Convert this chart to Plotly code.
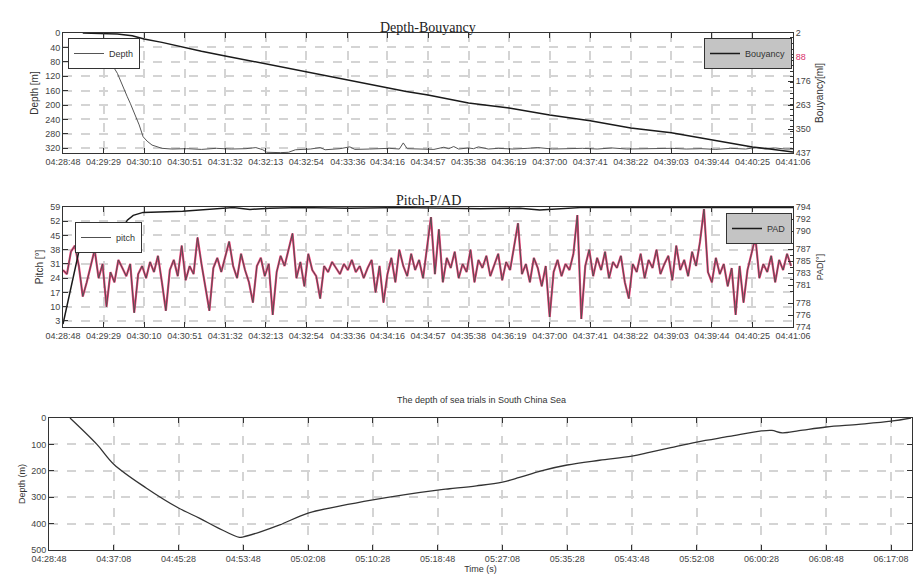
import plotly.graph_objects as go

# ---------------- data ----------------
top_tick_labels = ["04:28:48", "04:29:29", "04:30:10", "04:30:51", "04:31:32", "04:32:13",
                   "04:32:54", "04:33:36", "04:34:16", "04:34:57", "04:35:38", "04:36:19",
                   "04:37:00", "04:37:41", "04:38:22", "04:39:03", "04:39:44", "04:40:25",
                   "04:41:06"]
bottom_tick_labels = ["04:28:48", "04:37:08", "04:45:28", "04:53:48", "05:02:08", "05:10:28",
                      "05:18:48", "05:27:08", "05:35:28", "05:43:48", "05:52:08", "06:00:28",
                      "06:08:48", "06:17:08"]

depth_ticks = [0, 40, 80, 120, 160, 200, 240, 280, 320]
buoy_ticks = [2, 89, 176, 263, 350, 437]
buoy_tick_text = ["2", "<span style='color:#d8306a'>88</span>", "176", "263", "350", "437"]
pitch_ticks = [3, 10, 17, 24, 31, 38, 45, 52, 59]
pad_ticks = [774, 776, 778, 781, 783, 785, 787, 790, 792, 794]
sea_depth_ticks = [0, 100, 200, 300, 400, 500]

# seconds after 04:28:48
depth_t = [20, 30, 35, 40, 45, 51, 55, 58, 61, 65, 68, 71, 74, 77, 81, 85, 90, 95, 100, 110,
           125, 140, 155, 170, 185, 195, 202, 206, 212, 220, 228, 235, 250, 260, 265, 280, 290,
           295, 310, 330, 340, 344, 348, 360, 375, 385, 390, 395, 400, 410, 415, 420, 430,
           440, 455, 470, 480, 495, 510, 525, 540, 555, 570, 585, 600, 615, 630, 645, 660,
           675, 690, 700, 710, 720, 730, 738]
depth_m = [50, 66, 75, 84, 88, 94, 112, 130, 150, 177, 195, 214, 235, 255, 288, 300, 311, 316,
           320, 322, 321, 323, 320, 322, 321, 318, 324, 331, 332, 332, 331, 324, 322, 318, 324,
           321, 316, 323, 322, 320, 322, 305, 321, 321, 323, 317, 321, 315, 322, 319, 321, 316,
           322, 320, 322, 320, 318, 322, 321, 320, 322, 319, 322, 321, 322, 320, 322, 321, 323,
           320, 322, 318, 322, 319, 322, 322]

buoy_t = [20, 40, 55, 70, 82, 100, 123, 140, 164, 185, 205, 225, 246, 265, 288, 306, 328,
          347, 369, 401, 410, 451, 492, 533, 574, 615, 656, 697, 738]
buoy_ml = [2, 3, 6, 12, 24, 36, 56, 68, 85, 100, 115, 128, 142, 157, 172, 187, 201, 214, 227,
           251, 256, 274, 299, 320, 346, 364, 390, 415, 433]

pitch_step_s = 4
pitch_deg = [28, 26, 37, 40, 30, 15, 22, 30, 38, 24,
             31, 10, 27, 22, 33, 29, 25, 31, 7, 26,
             30, 24, 32, 27, 35, 22, 8, 28, 33, 25,
             40, 23, 30, 26, 44, 31, 20, 8, 29, 34,
             27, 35, 42, 30, 24, 36, 28, 22, 12, 30,
             34, 25, 31, 6, 27, 35, 30, 38, 46, 24,
             32, 20, 36, 28, 25, 14, 30, 27, 32, 29,
             26, 31, 28, 33, 27, 30, 24, 29, 33, 17,
             30, 12, 26, 34, 22, 38, 30, 25, 36, 28,
             33, 24, 40, 54, 26, 48, 22, 34, 29, 37,
             24, 31, 27, 38, 22, 33, 29, 35, 25, 30,
             36, 23, 32, 28, 40, 51, 26, 31, 22, 34,
             29, 20, 30, 5, 27, 33, 25, 31, 28, 36,
             55, 4, 30, 38, 25, 34, 28, 37, 24, 32,
             29, 35, 22, 14, 31, 27, 36, 24, 33, 29,
             38, 26, 31, 35, 23, 40, 28, 33, 25, 37,
             30, 42, 58, 27, 22, 34, 26, 31, 20, 29,
             6, 30, 12, 28, 36, 44, 24, 31, 27, 35,
             22, 33, 28, 36, 30]
pitch_t = [i * pitch_step_s for i in range(len(pitch_deg))]

pad_t = [0, 19, 34, 48, 58, 65, 71, 81, 121, 156, 172, 189, 209, 240, 290, 341, 422, 462, 482,
         523, 563, 644, 738]
pad_val = [774.5, 788.8, 788.4, 789.6, 789.8, 791.8, 792.6, 793.1, 793.3, 793.7, 793.9, 793.6,
           793.8, 793.9, 793.8, 793.9, 793.7, 793.8, 793.5, 793.9, 793.9, 793.9, 793.9]

sea_t = [162, 370, 500, 750, 1000, 1164, 1300, 1470, 1500, 1627, 1781, 2000, 2250, 2500, 2750,
         3000, 3092, 3300, 3500, 3632, 3800, 4000, 4250, 4500, 4634, 4800, 5000, 5250, 5500,
         5580, 5660, 5790, 6000, 6250, 6500, 6654]
sea_depth = [0, 100, 175, 265, 341, 380, 415, 452, 450, 432, 405, 360, 333, 310, 290, 273, 268,
             257, 243, 225, 200, 178, 160, 144, 130, 112, 91, 70, 49, 47, 56, 48, 34, 24, 12, 0]


def sec(hms):
    h, m, s = map(int, hms.split(":"))
    return h * 3600 + m * 60 + s


T0 = sec(top_tick_labels[0])
top_tickvals = [sec(l) - T0 for l in top_tick_labels]
bottom_tickvals = [sec(l) - T0 for l in bottom_tick_labels]

W, H = 913, 580
def fx(px):
    return px / W
def fy(py):
    return 1 - py / H

SERIF = "Liberation Serif, DejaVu Serif, serif"
SANS = "Liberation Sans, Arial, sans-serif"
AX = "#333333"
GRID = "#d4d4d4"
tickfont = dict(family=SANS, size=9, color="#444444")

fig = go.Figure()

fig.add_trace(go.Scatter(x=depth_t, y=depth_m, mode="lines", name="Depth",
                         line=dict(color="#555555", width=1), xaxis="x", yaxis="y",
                         legend="legend"))
fig.add_trace(go.Scatter(x=buoy_t, y=buoy_ml, mode="lines", name="Bouyancy",
                         line=dict(color="#1a1a1a", width=1.5), xaxis="x", yaxis="y2",
                         legend="legend2"))
fig.add_trace(go.Scatter(x=pitch_t, y=pitch_deg, mode="lines", name="pitch_hl",
                         line=dict(color="#ee3f78", width=2.2), xaxis="x2",
                         yaxis="y3", showlegend=False, hoverinfo="skip"))
fig.add_trace(go.Scatter(x=pitch_t, y=pitch_deg, mode="lines", name="pitch",
                         line=dict(color="#505050", width=1), xaxis="x2", yaxis="y3",
                         legend="legend3"))
fig.add_trace(go.Scatter(x=pad_t, y=pad_val, mode="lines", name="PAD",
                         line=dict(color="#1a1a1a", width=1.5), xaxis="x2", yaxis="y4",
                         legend="legend4"))
fig.add_trace(go.Scatter(x=sea_t, y=sea_depth, mode="lines", name="sea",
                         line=dict(color="#333333", width=1.3, shape="spline"), xaxis="x3",
                         yaxis="y5", showlegend=False))

common_x = dict(showline=True, linecolor=AX, linewidth=1, mirror="ticks", ticks="inside",
                ticklen=5, tickcolor=AX, showgrid=True, gridcolor=GRID, gridwidth=2,
                griddash="dash", zeroline=False, tickfont=tickfont, tickangle=0,
                automargin=False)
common_y = dict(showline=True, linecolor=AX, linewidth=1, ticks="inside", ticklen=5,
                tickcolor=AX, showgrid=True, gridcolor=GRID, gridwidth=2, griddash="dash",
                zeroline=False, tickfont=tickfont, automargin=False)

title_font = dict(family=SANS, size=10, color="#333")
legend_common = dict(bordercolor=AX, borderwidth=1, font=dict(family=SANS, size=9, color="#333"),
                     itemwidth=30, tracegroupgap=0, yanchor="top")

top_dom_x = [fx(63), fx(793)]
fig.update_layout(
    width=W, height=H, margin=dict(l=0, r=0, t=0, b=0, autoexpand=False),
    paper_bgcolor="white", plot_bgcolor="white",
    xaxis=dict(common_x, domain=top_dom_x, anchor="y", range=[0, 738],
               tickvals=top_tickvals, ticktext=top_tick_labels),
    yaxis=dict(common_y, domain=[fy(153), fy(33)], anchor="x", range=[333, 0],
               tickvals=depth_ticks, mirror=False,
               title=dict(text="Depth [m]", font=title_font, standoff=4)),
    yaxis2=dict(common_y, overlaying="y", side="right", anchor="x", range=[437, 2],
                tickvals=buoy_ticks, ticktext=buoy_tick_text, showgrid=False,
                minor=dict(ticks="inside", ticklen=3, nticks=5, tickcolor=AX, showgrid=False),
                title=dict(text="Bouyancy[ml]", font=title_font, standoff=6)),
    xaxis2=dict(common_x, domain=top_dom_x, anchor="y3", range=[0, 738],
                tickvals=top_tickvals, ticktext=top_tick_labels),
    yaxis3=dict(common_y, domain=[fy(327), fy(207)], anchor="x2", range=[0, 59],
                tickvals=pitch_ticks, mirror=False,
                title=dict(text="Pitch [°]", font=title_font, standoff=4)),
    yaxis4=dict(common_y, overlaying="y3", side="right", anchor="x2", range=[774, 794],
                tickvals=pad_ticks, showgrid=False,
                minor=dict(ticks="inside", ticklen=3, nticks=3, tickcolor=AX, showgrid=False),
                title=dict(text="PAD[°]", font=dict(family=SANS, size=9, color="#333"),
                           standoff=6)),
    xaxis3=dict(common_x, domain=[fx(49), fx(912)], anchor="y5", range=[0, 6662],
                tickvals=bottom_tickvals, ticktext=bottom_tick_labels,
                title=dict(text="Time (s)", font=dict(family=SANS, size=9, color="#333"),
                           standoff=2)),
    yaxis5=dict(common_y, domain=[fy(550), fy(418)], anchor="x3", range=[500, 0],
                tickvals=sea_depth_ticks, mirror="ticks",
                title=dict(text="Depth (m)", font=dict(family=SANS, size=9, color="#333"),
                           standoff=4)),
    legend=dict(legend_common, x=fx(68), y=fy(38), xanchor="left", bgcolor="white"),
    legend2=dict(legend_common, x=fx(792), y=fy(38), xanchor="right", bgcolor="#c4c4c4"),
    legend3=dict(legend_common, x=fx(75), y=fy(222), xanchor="left", bgcolor="white"),
    legend4=dict(legend_common, x=fx(792), y=fy(213), xanchor="right", bgcolor="#c4c4c4"),
    annotations=[
        dict(text="Depth-Bouyancy", x=fx(428), y=fy(18), xref="paper", yref="paper",
             showarrow=False, font=dict(family=SERIF, size=14, color="#222")),
        dict(text="Pitch-P/AD", x=fx(428), y=fy(191), xref="paper", yref="paper",
             showarrow=False, font=dict(family=SERIF, size=14, color="#222")),
        dict(text="The depth of sea trials in South China Sea", x=fx(481), y=fy(407),
             xref="paper", yref="paper", showarrow=False,
             font=dict(family=SANS, size=9, color="#333")),
    ],
)

fig.write_html("out.html", config={"displayModeBar": False},
               post_script="document.body.style.margin='0';")
